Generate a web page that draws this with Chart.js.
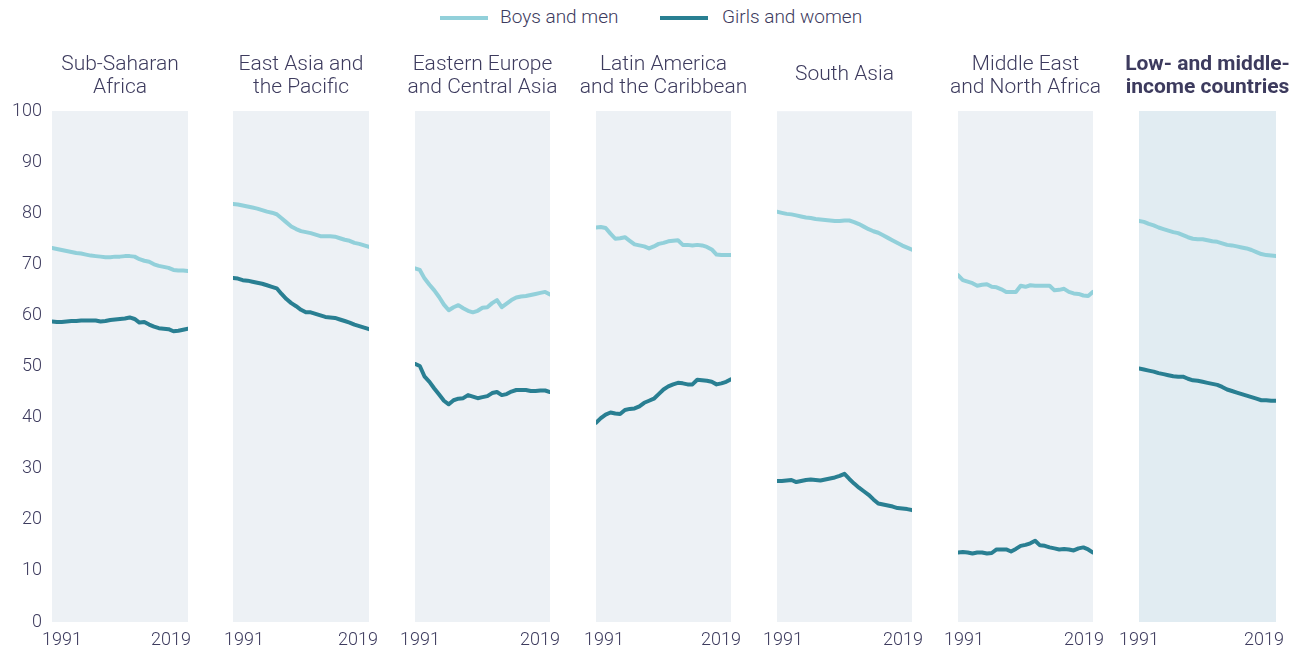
<!DOCTYPE html>
<html>
<head>
<meta charset="utf-8">
<script src="https://cdn.jsdelivr.net/npm/chart.js@4.4.1/dist/chart.umd.min.js"></script>
<style>
  html, body { margin: 0; padding: 0; background: #fff; }
  #wrap { position: relative; width: 1296px; height: 648px; overflow: hidden; font-family: Roboto, "Noto Sans", sans-serif; font-weight: 300; color: #3d3b5e; }
  .panel { position: absolute; top: 40px; height: 608px; }
  .legend-line { position: absolute; top: 16px; width: 48px; height: 4px; }
  .legend-text { position: absolute; top: 5px; font-size: 19px; line-height: 24px; white-space: nowrap; }
</style>
</head>
<body>
<div id="wrap">
  <div class="legend-line" style="left:440px;background:#92d0da"></div>
  <div class="legend-text" style="left:500px">Boys and men</div>
  <div class="legend-line" style="left:660px;background:#297f92"></div>
  <div class="legend-text" style="left:722px">Girls and women</div>
</div>
<script>
const years = [1991, 1992, 1993, 1994, 1995, 1996, 1997, 1998, 1999, 2000, 2001, 2002, 2003, 2004, 2005,
  2006, 2007, 2008, 2009, 2010, 2011, 2012, 2013, 2014, 2015, 2016, 2017, 2018, 2019];
const firstYear = 1991;
const lastYear = 2019;
const yTicks = [0, 10, 20, 30, 40, 50, 60, 70, 80, 90, 100];

const regions = [
  ["Sub-Saharan", "Africa"],
  ["East Asia and", "the Pacific"],
  ["Eastern Europe", "and Central Asia"],
  ["Latin America", "and the Caribbean"],
  ["South Asia"],
  ["Middle East", "and North Africa"],
  ["Low- and middle-", "income countries"],
];

const boysSSA = [73.2, 73.0, 72.8, 72.6, 72.4, 72.2, 72.1, 71.9, 71.7, 71.6, 71.5, 71.4, 71.4, 71.5, 71.5,
  71.6, 71.6, 71.5, 71.0, 70.7, 70.5, 70.0, 69.7, 69.5, 69.3, 68.9, 68.8, 68.8, 68.7];
const girlsSSA = [58.8, 58.7, 58.7, 58.8, 58.9, 58.9, 59.0, 59.0, 59.0, 59.0, 58.8, 58.9, 59.1, 59.2, 59.3,
  59.4, 59.6, 59.3, 58.6, 58.7, 58.2, 57.8, 57.5, 57.4, 57.3, 56.9, 57.0, 57.2, 57.4];

const boysEAP = [81.8, 81.7, 81.5, 81.3, 81.1, 80.9, 80.6, 80.3, 80.1, 79.8, 79.0, 78.2, 77.4, 76.9, 76.5,
  76.3, 76.1, 75.8, 75.5, 75.5, 75.5, 75.4, 75.1, 74.8, 74.6, 74.2, 74.0, 73.7, 73.4];
const girlsEAP = [67.3, 67.2, 66.9, 66.8, 66.6, 66.4, 66.2, 65.9, 65.6, 65.3, 64.2, 63.2, 62.4, 61.8, 61.1,
  60.6, 60.6, 60.3, 60.0, 59.7, 59.6, 59.5, 59.2, 58.9, 58.6, 58.2, 57.9, 57.6, 57.3];

const boysECA = [69.2, 68.9, 67.2, 66.0, 64.9, 63.6, 62.1, 61.0, 61.6, 62.0, 61.4, 60.9, 60.6, 60.9, 61.5,
  61.6, 62.4, 63.0, 61.6, 62.3, 63.0, 63.5, 63.7, 63.8, 64.0, 64.2, 64.4, 64.6, 64.1];
const girlsECA = [50.5, 50.1, 48.0, 47.0, 45.7, 44.5, 43.3, 42.6, 43.4, 43.7, 43.8, 44.4, 44.1, 43.8, 44.0,
  44.2, 44.8, 45.0, 44.4, 44.6, 45.1, 45.4, 45.4, 45.4, 45.2, 45.2, 45.3, 45.3, 45.0];

const boysLAC = [77.2, 77.3, 77.1, 76.0, 75.0, 75.1, 75.3, 74.6, 73.9, 73.7, 73.5, 73.1, 73.5, 74.0, 74.2,
  74.5, 74.6, 74.7, 73.8, 73.8, 73.7, 73.8, 73.7, 73.4, 72.9, 71.9, 71.8, 71.8, 71.8];
const girlsLAC = [39.0, 39.9, 40.6, 41.0, 40.8, 40.7, 41.5, 41.7, 41.8, 42.2, 42.9, 43.3, 43.7, 44.6, 45.5,
  46.1, 46.5, 46.8, 46.7, 46.5, 46.5, 47.4, 47.3, 47.2, 47.0, 46.5, 46.7, 47.0, 47.5];

const boysSA = [80.3, 80.1, 79.9, 79.8, 79.6, 79.4, 79.2, 79.1, 78.9, 78.8, 78.7, 78.6, 78.5, 78.5, 78.6,
  78.6, 78.3, 77.9, 77.4, 76.9, 76.5, 76.2, 75.7, 75.2, 74.7, 74.2, 73.7, 73.3, 72.9];
const girlsSA = [27.6, 27.6, 27.7, 27.8, 27.4, 27.6, 27.8, 27.9, 27.8, 27.7, 27.9, 28.1, 28.3, 28.6, 29.0,
  28.0, 27.1, 26.3, 25.6, 24.9, 24.0, 23.2, 23.0, 22.8, 22.6, 22.3, 22.2, 22.1, 21.9];

const boysMENA = [67.9, 66.9, 66.6, 66.3, 65.8, 66.0, 66.1, 65.6, 65.5, 65.1, 64.6, 64.6, 64.6, 65.8, 65.6,
  65.9, 65.8, 65.8, 65.8, 65.8, 64.9, 65.0, 65.2, 64.6, 64.3, 64.2, 63.9, 63.8, 64.6];
const girlsMENA = [13.6, 13.7, 13.6, 13.4, 13.6, 13.6, 13.4, 13.5, 14.2, 14.2, 14.2, 13.8, 14.3, 14.9, 15.1,
  15.4, 15.9, 15.0, 14.9, 14.6, 14.4, 14.2, 14.3, 14.2, 14.0, 14.4, 14.6, 14.2, 13.6];

const boysLMIC = [78.5, 78.3, 77.9, 77.6, 77.2, 76.9, 76.6, 76.3, 76.1, 75.7, 75.3, 75.0, 74.9, 74.9, 74.7,
  74.5, 74.4, 74.1, 73.8, 73.7, 73.5, 73.3, 73.1, 72.8, 72.4, 72.0, 71.8, 71.7, 71.6];
const girlsLMIC = [49.6, 49.4, 49.2, 49.0, 48.7, 48.5, 48.3, 48.1, 48.0, 48.0, 47.6, 47.3, 47.2, 47.0, 46.8,
  46.6, 46.4, 46.0, 45.5, 45.2, 44.9, 44.6, 44.3, 44.0, 43.7, 43.4, 43.4, 43.3, 43.3];

const boysSeries = [boysSSA, boysEAP, boysECA, boysLAC, boysSA, boysMENA, boysLMIC];
const girlsSeries = [girlsSSA, girlsEAP, girlsECA, girlsLAC, girlsSA, girlsMENA, girlsLMIC];

// layout: plot edges of each panel in page pixels, and nudges of the two year labels
const panelLeft = [52, 233, 415, 596, 777, 958, 1139];
const panelRight = [188, 369, 550, 731, 912, 1093, 1276];
const startLabelShift = [10, 11, 5, 8, 6, 6, 0];
const endLabelShift = [-17, -11, -10, -10, -9, -9, -12];

const TEXT = "#3d3b5e";
const BOYS = "#92d0da";
const GIRLS = "#297f92";
const AXIS_H = 26;
const tickFont = { family: "Roboto", size: 18, weight: 300 };

const panelBg = {
  id: "panelBg",
  beforeDraw(chart, args, opts) {
    const { ctx, chartArea: a } = chart;
    ctx.save();
    ctx.fillStyle = opts.color;
    ctx.fillRect(a.left, a.top, a.right - a.left, a.bottom - a.top);
    ctx.restore();
  },
};

// the two year axes are laid out with zero height on the plot's bottom edge,
// then given their real height so their labels are not clipped
const yearAxesHeight = {
  id: "yearAxesHeight",
  afterLayout(chart) {
    ["x", "xEnd"].forEach((id) => {
      const s = chart.scales[id];
      s.bottom = s.top + AXIS_H;
      s.height = AXIS_H;
    });
  },
};

const toPoints = (vals) => vals.map((v, i) => ({ x: years[i], y: v }));

const yearAxis = (year, shift) => ({
  type: "linear",
  position: "bottom",
  min: firstYear,
  max: lastYear,
  afterBuildTicks: (s) => { s.ticks = [{ value: year }]; },
  afterFit: (s) => { s.height = 0; },
  grid: { display: false, drawTicks: false },
  border: { display: false },
  ticks: {
    color: TEXT,
    padding: 8,
    maxRotation: 0,
    labelOffset: shift,
    font: tickFont,
    callback: (v) => String(v),
  },
});

const wrap = document.getElementById("wrap");

regions.forEach((title, i) => {
  const first = i === 0;
  const last = i === regions.length - 1;
  const oneLine = title.length === 1;
  // side room around the plot; same on both sides so the title centres on the panel
  const side = first ? 52 : 34;
  const left = panelLeft[i] - side;
  const width = panelRight[i] - panelLeft[i] + 2 * side;

  const box = document.createElement("div");
  box.className = "panel";
  box.style.left = left + "px";
  box.style.width = width + "px";
  const canvas = document.createElement("canvas");
  box.appendChild(canvas);
  wrap.appendChild(box);

  new Chart(canvas.getContext("2d"), {
    type: "line",
    data: {
      datasets: [
        { label: "Boys and men", data: toPoints(boysSeries[i]), borderColor: BOYS },
        { label: "Girls and women", data: toPoints(girlsSeries[i]), borderColor: GIRLS },
      ],
    },
    options: {
      responsive: true,
      maintainAspectRatio: false,
      animation: false,
      devicePixelRatio: 1,
      layout: { padding: { left: 0, right: 0, top: 0, bottom: AXIS_H } },
      elements: {
        point: { radius: 0, hoverRadius: 0 },
        line: { borderWidth: 4, tension: 0, borderJoinStyle: "round", borderCapStyle: "round" },
      },
      plugins: {
        legend: { display: false },
        tooltip: { enabled: false },
        panelBg: { color: last ? "#e1ecf2" : "#edf1f5" },
        title: {
          display: true,
          text: title,
          color: TEXT,
          font: { family: "Roboto", size: 21, weight: last ? "bold" : 300, lineHeight: 1.1 },
          padding: oneLine ? { top: 23.5, bottom: 24.6 } : { top: 13, bottom: 11.8 },
        },
      },
      scales: {
        x: yearAxis(firstYear, startLabelShift[i]),
        xEnd: yearAxis(lastYear, endLabelShift[i]),
        y: {
          display: first,
          min: 0,
          max: 100,
          afterBuildTicks: (s) => { s.ticks = yTicks.map((v) => ({ value: v })); },
          afterFit: (s) => { s.width = side; },
          grid: { display: false, drawTicks: false },
          border: { display: false },
          ticks: { color: TEXT, padding: 10, font: tickFont },
        },
        // empty right-hand axis that only keeps room on the right of the plot
        spacer: {
          type: "linear",
          position: "right",
          display: false,
          afterFit: (s) => { s.width = side; },
        },
      },
    },
    plugins: [panelBg, yearAxesHeight],
  });
});
</script>
</body>
</html>
